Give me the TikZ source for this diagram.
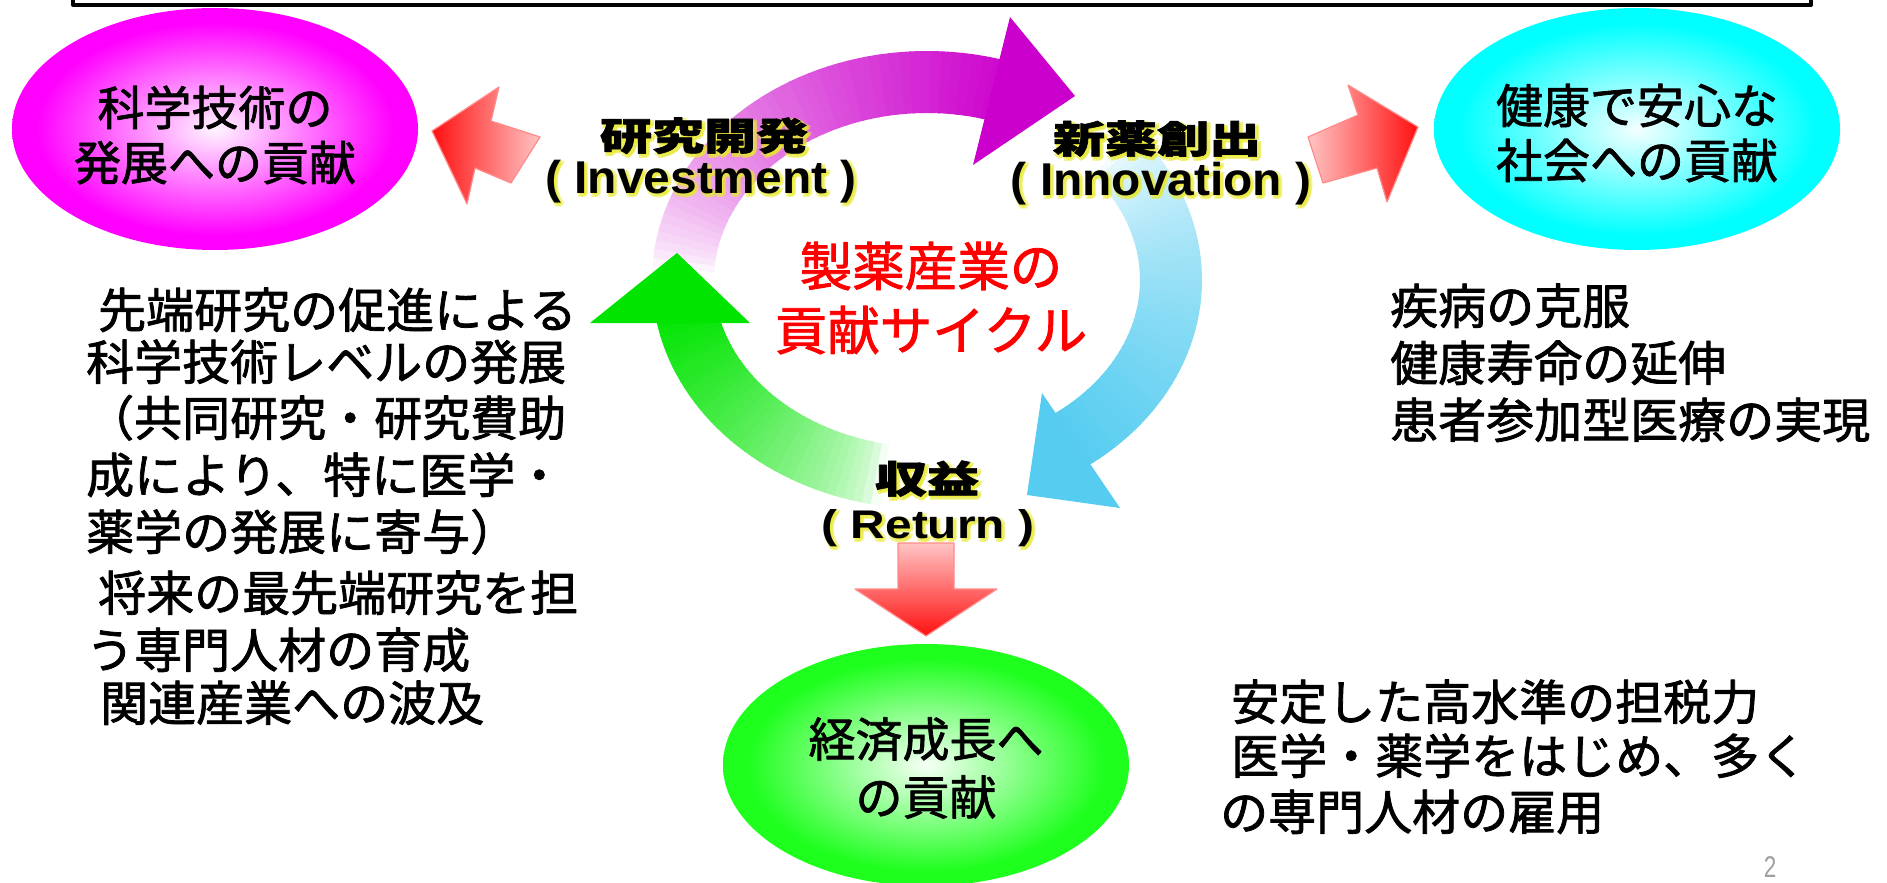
\documentclass[tikz,border=0pt]{standalone}
\usepackage{fontspec}
\newfontfamily\jp{Noto Sans CJK JP}[FakeBold=1.6]
\newfontfamily\lat{Liberation Sans}
\usetikzlibrary{shapes.geometric,calc}
\definecolor{ballmag}{HTML}{FF00FF}
\definecolor{ballcyan}{HTML}{00FFFF}
\definecolor{ballgreen}{HTML}{1EFF1E}
\definecolor{arcpurple}{HTML}{CC00CC}
\definecolor{arcblue}{HTML}{55CCF0}
\definecolor{arcgreen}{HTML}{00E400}
\definecolor{arrowred}{HTML}{FF1010}
\definecolor{arrowpink}{HTML}{FFC4C4}
\definecolor{arrowline}{HTML}{FF8A8A}
\definecolor{glowyel}{HTML}{E8E830}
\pgfdeclareradialshading{magshade}{\pgfpoint{0bp}{0bp}}{color(0bp)=(ballmag!4!white); color(22bp)=(ballmag); color(50bp)=(ballmag)}
\pgfdeclareradialshading{cyanshade}{\pgfpoint{0bp}{0bp}}{color(0bp)=(ballcyan!4!white); color(22bp)=(ballcyan); color(50bp)=(ballcyan)}
\pgfdeclareradialshading{greenshade}{\pgfpoint{0bp}{0bp}}{color(0bp)=(ballgreen!4!white); color(22bp)=(ballgreen); color(50bp)=(ballgreen)}
% label with a soft yellow halo: name, position, style, text
\newcommand{\glowlabel}[4]{%
  \foreach \gx/\gy in {1/1,3/3,4/1,1/4}
    \node[#3, text=glowyel, opacity=0.5] at ($(#2)+(\gx,\gy)$) {#4};
  \node[#3] (#1) at (#2) {#4};
}
\begin{document}
\begin{tikzpicture}[x=1pt, y=-1pt, line join=round]
  \tikzset{ball/.style={ellipse, minimum width=406pt, minimum height=242pt, inner sep=0pt},
    balltext/.style={font=\jp\fontsize{47}{55}\selectfont, align=center, inner sep=0pt},
    body/.style={font=\jp\fontsize{48}{56}\selectfont, anchor=base west, inner sep=0pt},
    cyclab/.style={font=\jp\bfseries\fontsize{38}{40}\selectfont, xscale=1.37, inner sep=0pt, anchor=base},
    cyceng/.style={font=\lat\bfseries\fontsize{46}{48}\selectfont, xscale=1.04, inner sep=0pt, anchor=base},
    band/.style={line width=62pt},
    redarrow/.style={draw=arrowline, line width=1.2pt}}
  \useasboundingbox (0,0) rectangle (1887,883);
  \draw[line width=4pt] (73,-10) rectangle (1811,5);
  % contributions
  \node[ball, shading=magshade] (sci) at (215,129) {};
  \node[ball, shading=cyanshade] (soc) at (1637,129) {};
  \node[ball, shading=greenshade] (eco) at (926,765) {};
  \node[balltext] (sciT) at (215,135) {科学技術の\\発展への貢献};
  \node[balltext] (socT) at (1637,133) {健康で安心な\\社会への貢献};
  \node[balltext, font=\jp\fontsize{47}{58}\selectfont] (ecoT) at (926,768) {経済成長へ\\の貢献};
  % block arrows
  \draw[redarrow, left color=arrowred, right color=arrowpink] (540,137) -- (491,121) -- (499,87) -- (432,131) -- (467,204) -- (475,168) -- (511,183) -- cycle;
  \draw[redarrow, left color=arrowpink, right color=arrowred] (1308,137) -- (1358,115) -- (1348,85) -- (1418,127) -- (1387,202) -- (1377,168) -- (1323,183) -- cycle;
  \draw[redarrow, top color=arrowpink, bottom color=arrowred] (898,543) -- (954,543) -- (954,589) -- (997,589) -- (926,636) -- (855,589) -- (898,589) -- cycle;
  % cycle
  \foreach \i in {0,...,47}{
    \pgfmathsetmacro\a{183+2.25*\i}
    \pgfmathtruncatemacro\p{4+96*(\i/47)^0.75}
    \draw[band, draw=arcpurple!\p!white] ({927+244*cos(\a)},{280+198*sin(\a)}) arc[start angle=\a, delta angle=2.6, x radius=244, y radius=198];
  }
  \foreach \i in {0,...,47}{
    \pgfmathsetmacro\a{320+2*\i}
    \pgfmathtruncatemacro\p{6+94*(\i/47)^0.6}
    \draw[band, draw=arcblue!\p!white] ({927+244*cos(\a)},{280+198*sin(\a)}) arc[start angle=\a, delta angle=2.4, x radius=244, y radius=198];
  }
  \foreach \i in {0,...,35}{
    \pgfmathsetmacro\a{100+2*\i}
    \pgfmathtruncatemacro\p{4+96*(\i/35)^0.6}
    \draw[band, draw=arcgreen!\p!white] ({927+244*cos(\a)},{280+198*sin(\a)}) arc[start angle=\a, delta angle=2.4, x radius=244, y radius=198];
  }
  \fill[arcpurple] (1010,17) -- (1075,96) -- (973,165) -- cycle;
  \fill[arcblue] (1042,393) -- (1120,508) -- (1027,495) -- cycle;
  \fill[arcgreen] (590,323) -- (677,253) -- (750,323) -- cycle;
  \node[font=\jp\fontsize{52.5}{64}\selectfont, text=red, align=center, inner sep=0pt] (cycle) at (931,298) {製薬産業の\\貢献サイクル};
  \glowlabel{rd}{704,150}{cyclab}{研究開発}
  \glowlabel{rdE}{701,193}{cyceng}{( Investment )}
  \glowlabel{nd}{1157,153}{cyclab}{新薬創出}
  \glowlabel{ndE}{1161,195}{cyceng}{( Innovation\ )}
  \glowlabel{ret}{927,493}{cyclab}{収益}
  \glowlabel{retE}{928,538}{cyceng, font=\lat\bfseries\fontsize{40}{42}\selectfont, xscale=1.15}{( Return )}
  % effects
  \foreach \dx/\y/\t [count=\i] in {12/328/先端研究の促進による, 0/380/科学技術レベルの発展, 0/436/（共同研究・研究費助, 0/493/成により、特に医学・, 0/550/薬学の発展に寄与）, 12/611/将来の最先端研究を担, 0/668/う専門人材の育成, 14/721/関連産業への波及}
    \node[body] (sciL\i) at (86+\dx,\y) {\t};
  \foreach \t [count=\i] in {疾病の克服, 健康寿命の延伸, 患者参加型医療の実現}
    \node[body] (socL\i) at (1390,{267+57*\i}) {\t};
  \foreach \dx/\y/\t [count=\i] in {11/720/安定した高水準の担税力, 11/774/医学・薬学をはじめ、多く, 0/830/の専門人材の雇用}
    \node[body] (ecoL\i) at (1220+\dx,\y) {\t};
  \node[font=\lat\fontsize{30}{30}\selectfont, text=gray!75, xscale=0.75, anchor=base, inner sep=0pt] (pageno) at (1770,877) {2};
\end{tikzpicture}
\end{document}
